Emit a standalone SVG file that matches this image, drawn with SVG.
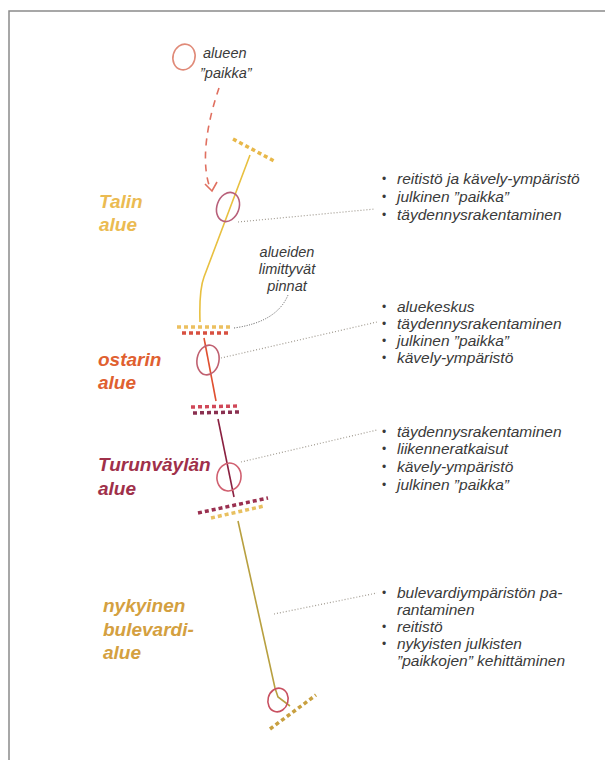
<svg xmlns="http://www.w3.org/2000/svg" width="605" height="760" viewBox="0 0 605 760">
<style>
.frame{fill:none;stroke:#8a8a8a;stroke-width:1.5}
.note{font-family:"Liberation Sans",Arial,sans-serif;font-style:italic;font-size:14.5px;fill:#3a3a3a}
.item{font-family:"Liberation Sans",Arial,sans-serif;font-style:italic;font-size:15.5px;fill:#3a3a3a}
.bul{font-family:"Liberation Sans",Arial,sans-serif;font-size:12px;fill:#3a3a3a}
.lbl{font-family:"Liberation Sans",Arial,sans-serif;font-style:italic;font-weight:bold;font-size:19px}
.ring{fill:none;stroke-width:1.6}
.dot{fill:none;stroke:#a09a90;stroke-width:1.2;stroke-dasharray:1 2}
.bar{fill:none;stroke-width:3.5;stroke-dasharray:4 3}
.path{fill:none;stroke-width:1.6}
</style>
<rect width="605" height="760" fill="#fff"/>
<path class="frame" d="M9,760 V11 H605"/>

<g id="paikka-legend">
<ellipse class="ring" cx="184" cy="57" rx="11" ry="13" stroke="#e08a78" transform="rotate(15 184 57)"/>
<text class="note" x="203" y="58">alueen</text>
<text class="note" x="200" y="78">”paikka”</text>
</g>

<g id="connectors">
<path d="M219,88 C208,120 200,160 210,188" fill="none" stroke="#e07060" stroke-width="1.6" stroke-dasharray="7 6"/>
<path d="M205,184 L212,191 L217,182" fill="none" stroke="#e07060" stroke-width="1.6"/>
<path class="dot" d="M238,222 L375,209"/>
<path class="dot" d="M221,358 L377,322"/>
<path class="dot" d="M241,462 L377,430"/>
<path class="dot" d="M274,614 L377,593"/>
<path d="M234,328 Q277,322 288,295" fill="none" stroke="#555" stroke-width="1" stroke-dasharray="1 1.5"/>
</g>

<g id="talin">
<path class="bar" d="M233,139 L276,162" stroke="#e8b84a"/>
<path class="path" d="M250,155 L204,277 Q199,290 200,322" stroke="#e8c040"/>
<ellipse class="ring" cx="228" cy="207" rx="11" ry="15" stroke="#b8607a" transform="rotate(20 228 207)"/>
<text class="lbl" x="99" y="208" fill="#ebbb52">Talin</text>
<text class="lbl" x="99" y="231" fill="#ebbb52">alue</text>
<text class="bul" x="382" y="183">•</text><text class="item" x="397" y="184">reitistö ja kävely-ympäristö</text>
<text class="bul" x="382" y="201">•</text><text class="item" x="397" y="202">julkinen ”paikka”</text>
<text class="bul" x="382" y="219">•</text><text class="item" x="397" y="220">täydennysrakentaminen</text>
</g>

<g id="limittyvat">
<text class="note" x="287" y="257" text-anchor="middle">alueiden</text>
<text class="note" x="287" y="274" text-anchor="middle">limittyvät</text>
<text class="note" x="287" y="291" text-anchor="middle">pinnat</text>
</g>

<g id="ostarin">
<path class="bar" d="M177,327 L233,327" stroke="#ecc060"/>
<path class="bar" d="M182,333 L229,333" stroke="#d85040"/>
<path class="path" d="M204,338 L216,401" stroke="#e05030"/>
<ellipse class="ring" cx="208" cy="360" rx="11" ry="15" stroke="#c06070" transform="rotate(10 208 360)"/>
<path class="bar" d="M191,407 L239,406" stroke="#d04858"/>
<path class="bar" d="M193,413 L239,412" stroke="#8a3050"/>
<text class="lbl" x="98" y="366" fill="#e06030">ostarin</text>
<text class="lbl" x="98" y="389" fill="#e06030">alue</text>
<text class="bul" x="382" y="311">•</text><text class="item" x="397" y="312">aluekeskus</text>
<text class="bul" x="382" y="328">•</text><text class="item" x="397" y="329">täydennysrakentaminen</text>
<text class="bul" x="382" y="345">•</text><text class="item" x="397" y="346">julkinen ”paikka”</text>
<text class="bul" x="382" y="362">•</text><text class="item" x="397" y="363">kävely-ympäristö</text>
</g>

<g id="turunvaylan">
<path class="path" d="M218,419 L234,497" stroke="#8a2040"/>
<ellipse class="ring" cx="229" cy="477" rx="12" ry="14" stroke="#d06070" transform="rotate(10 229 477)"/>
<path class="bar" d="M198,513 L268,498" stroke="#9a3050"/>
<path class="bar" d="M211,518 L264,506" stroke="#e8c060" stroke-width="3"/>
<text class="lbl" x="98" y="471" fill="#a0304a">Turunväylän</text>
<text class="lbl" x="98" y="495" fill="#a0304a">alue</text>
<text class="bul" x="382" y="436">•</text><text class="item" x="397" y="437">täydennysrakentaminen</text>
<text class="bul" x="382" y="453">•</text><text class="item" x="397" y="454">liikenneratkaisut</text>
<text class="bul" x="382" y="471">•</text><text class="item" x="397" y="472">kävely-ympäristö</text>
<text class="bul" x="382" y="489">•</text><text class="item" x="397" y="490">julkinen ”paikka”</text>
</g>

<g id="bulevardi">
<path class="path" d="M238,521 L275,688 L278,697 L290,706" stroke="#b8a040"/>
<ellipse class="ring" cx="278" cy="700" rx="10" ry="12" stroke="#c85060" transform="rotate(15 278 700)"/>
<path class="bar" d="M270,729 L316,695" stroke="#c8a040"/>
<text class="lbl" x="103" y="612" fill="#d4a040">nykyinen</text>
<text class="lbl" x="103" y="636" fill="#d4a040">bulevardi-</text>
<text class="lbl" x="103" y="659" fill="#d4a040">alue</text>
<text class="bul" x="382" y="597">•</text><text class="item" x="397" y="598">bulevardiympäristön pa-</text>
<text class="item" x="397" y="615">rantaminen</text>
<text class="bul" x="382" y="631">•</text><text class="item" x="397" y="632">reitistö</text>
<text class="bul" x="382" y="648">•</text><text class="item" x="397" y="649">nykyisten julkisten</text>
<text class="item" x="397" y="666">”paikkojen” kehittäminen</text>
</g>
</svg>
